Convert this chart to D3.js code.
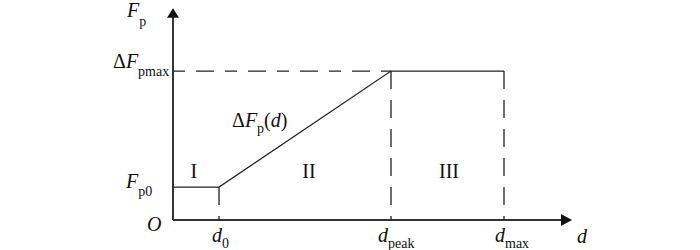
<!DOCTYPE html>
<html><head><meta charset="utf-8">
<script src="https://cdn.jsdelivr.net/npm/d3@7"></script>
<style>
html,body{margin:0;padding:0;background:#fff;}
svg text{font-family:"Liberation Serif","Times New Roman",serif;fill:#111;}
</style></head>
<body><svg id="c" width="700" height="250"></svg>
<script>
// Data (normalized units)
const dKeys = ["d0", "dpeak", "dmax"];
const dValues = [11.5, 54.5, 82.75];
const fKeys = ["Fp0", "Fpmax"];
const fValues = [15.4, 69.6];
const regionLabels = ["I", "II", "III"];
const regionX = [5.2, 34, 69];
const regionY = 20;

const svg = d3.select("#c");
const x = d3.scaleLinear().domain([0, 100]).range([173, 573]);
const y = d3.scaleLinear().domain([0, 100]).range([220, 6]);
const ink = "#222";

const d0 = dValues[0], dp = dValues[1], dm = dValues[2];
const f0 = fValues[0], fm = fValues[1];

// axes
svg.append("line").attr("x1", x(0)).attr("y1", y(0)).attr("x2", x(0)).attr("y2", y(95))
  .attr("stroke", "#333").attr("stroke-width", 2);
svg.append("line").attr("x1", x(0)).attr("y1", y(0)).attr("x2", x(97)).attr("y2", y(0))
  .attr("stroke", "#333").attr("stroke-width", 2);
svg.append("path").attr("d", `M${x(0)},${y(99)} L${x(0)-6},${y(94.5)} L${x(0)+6},${y(94.5)} Z`).attr("fill", "#111");
svg.append("path").attr("d", `M${x(100)-1},${y(0)} L${x(97)},${y(0)-6} L${x(97)},${y(0)+6} Z`).attr("fill", "#111");

// dashed guides
const dash = "18,11";
svg.append("line").attr("x1", x(0)).attr("x2", x(dp)).attr("y1", y(fm)).attr("y2", y(fm))
  .attr("stroke", ink).attr("stroke-width", 1.3).attr("stroke-dasharray", "12,11,18,11");
[[d0, f0], [dp, fm], [dm, fm]].forEach(([xv, yv]) => {
  svg.append("line").attr("x1", x(xv)).attr("x2", x(xv)).attr("y1", y(yv)).attr("y2", y(0))
    .attr("stroke", ink).attr("stroke-width", 1.3).attr("stroke-dasharray", dash);
});

// main curve
const pts = [[0, f0], [d0, f0], [dp, fm], [dm, fm]];
svg.append("path").attr("d", d3.line().x(p => x(p[0])).y(p => y(p[1]))(pts))
  .attr("fill", "none").attr("stroke", ink).attr("stroke-width", 1.2);

// text helper
function label(px, py, parts, anchor) {
  const t = svg.append("text").attr("x", px).attr("y", py).attr("text-anchor", anchor || "start");
  parts.forEach(p => {
    const s = t.append("tspan").text(p.t)
      .attr("font-size", p.sub ? 14 : 20)
      .attr("font-style", p.it ? "italic" : "normal");
    if (p.dy) s.attr("dy", p.dy);
  });
  return t;
}

// y-axis labels
label(x(0) - 46, 17, [{t: "F", it: true}, {t: "p", sub: true, dy: 9}]);
label(x(0) - 60, y(fm) - 3, [{t: "Δ"}, {t: "F", it: true}, {t: "pmax", sub: true, dy: 8}]);
label(x(0) - 47, y(f0) + 1, [{t: "F", it: true}, {t: "p0", sub: true, dy: 8}]);
label(x(0) - 26, y(0) + 11, [{t: "O", it: true}]);

// x-axis labels
label(x(d0) - 7, 242, [{t: "d", it: true}, {t: "0", sub: true, dy: 6}]);
label(x(dp) - 13, 242, [{t: "d", it: true}, {t: "peak", sub: true, dy: 6}]);
label(x(dm) - 9, 242, [{t: "d", it: true}, {t: "max", sub: true, dy: 6}]);
label(577, 243, [{t: "d", it: true}]);

// curve label
label(232, 127, [{t: "Δ"}, {t: "F", it: true}, {t: "p", sub: true, dy: 6}, {t: "(", dy: -6}, {t: "d", it: true}, {t: ")"}]);

// region labels
regionLabels.forEach((r, i) => {
  label(x(regionX[i]), y(regionY) + 1, [{t: r}], "middle");
});
</script></body></html>
